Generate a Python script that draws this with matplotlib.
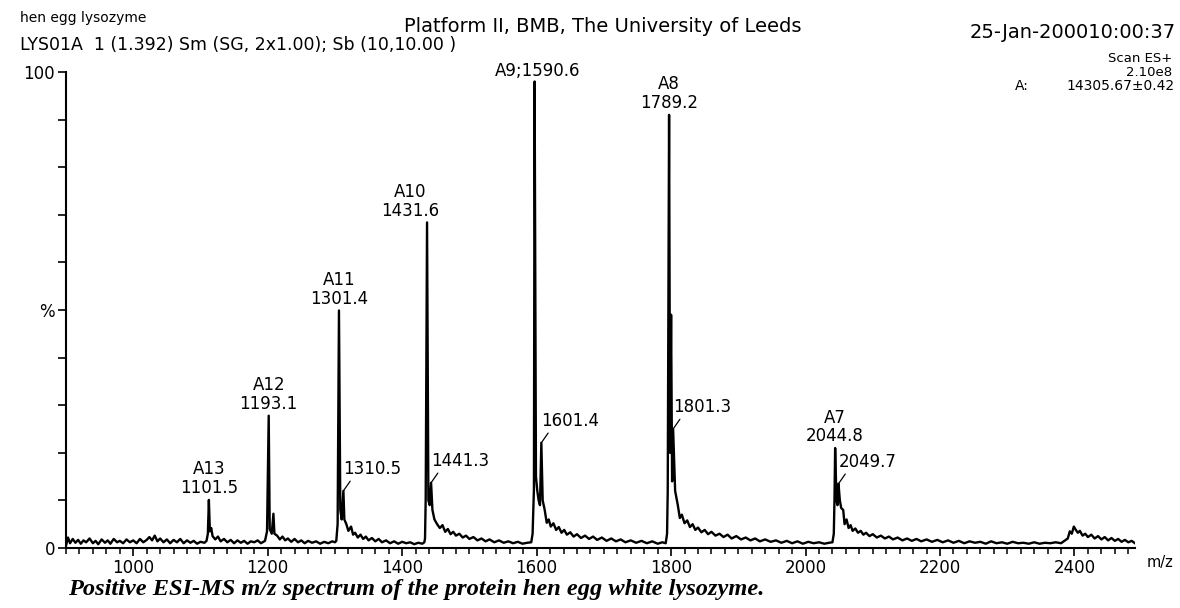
import matplotlib

matplotlib.use("Agg")
import matplotlib.pyplot as plt
from matplotlib.ticker import MultipleLocator

# spectrum profile (m/z on the printed axis, % of base peak)
mz = [
    900, 903, 906, 910, 914, 918, 922, 926, 930, 935, 940, 944, 948, 953, 958, 962, 966, 971, 976, 980, 985, 990, 995,
    1000, 1005, 1010, 1015, 1020, 1024, 1028, 1032, 1036, 1040, 1045, 1050, 1055, 1060, 1065, 1070, 1075, 1080, 1085, 1090, 1095, 1100, 1106,
    1109, 1111, 1112.5, 1114, 1116, 1118, 1122, 1126, 1130, 1135, 1140, 1145, 1150, 1155, 1160, 1165, 1170, 1175, 1180, 1185, 1190, 1196,
    1199, 1201.5, 1203, 1206, 1208.5, 1210, 1214, 1218, 1222, 1226, 1230, 1235, 1240, 1245, 1250, 1255, 1260, 1266, 1272, 1278, 1284, 1290, 1296, 1300,
    1302, 1304, 1306, 1308, 1310, 1312.6, 1314, 1317, 1320, 1324, 1327, 1330, 1334, 1338, 1342, 1346, 1350, 1355, 1360, 1365, 1370, 1376,
    1382, 1388, 1394, 1400, 1406, 1412, 1418, 1424, 1430, 1433,
    1434, 1435, 1437, 1439, 1441, 1443, 1445, 1448, 1452, 1456, 1460, 1464, 1468, 1472, 1476, 1480, 1485, 1490, 1495, 1500, 1506,
    1512, 1518, 1524, 1530, 1537, 1544, 1551, 1558, 1565, 1572, 1579, 1586, 1592,
    1594, 1596, 1597, 1599, 1601, 1603, 1605, 1607, 1609, 1612, 1615, 1618, 1621, 1625, 1629, 1633, 1637, 1641, 1645, 1650, 1655, 1660,
    1666, 1672, 1678, 1684, 1690, 1697, 1704, 1711, 1718, 1725, 1732, 1740, 1748, 1756, 1764, 1772, 1780, 1787, 1792,
    1794, 1795, 1797, 1798.5, 1800, 1801.5, 1803, 1806, 1810, 1813, 1816, 1820, 1824, 1828, 1832, 1836, 1840, 1845, 1850, 1855, 1860,
    1866, 1872, 1878, 1884, 1890, 1897, 1904, 1911, 1918, 1925, 1932, 1940, 1948, 1956, 1964, 1972, 1980, 1988, 1996, 2004,
    2012, 2020, 2028, 2035, 2040,
    2042, 2043, 2044, 2046, 2047.5, 2049, 2051, 2053, 2056, 2058, 2061, 2064, 2067, 2070, 2074, 2078, 2082, 2086, 2090, 2095, 2100,
    2106, 2112, 2118, 2124, 2130, 2137, 2144, 2151, 2158, 2165, 2172, 2180, 2188, 2196, 2204, 2212, 2220, 2228, 2236, 2244, 2252,
    2260, 2268, 2276, 2284, 2292, 2300, 2308, 2316, 2324, 2332, 2340, 2348, 2356, 2364, 2372, 2380,
    2385, 2390, 2393, 2396, 2399, 2402, 2405, 2408, 2412, 2416, 2420, 2425, 2430, 2435, 2440, 2445, 2450, 2455, 2460, 2465,
    2470, 2475, 2480, 2485, 2490,
]
intensity = [
    0.5, 2.2, 1.0, 1.9, 1.1, 1.7, 0.9, 1.6, 1.2, 2.0, 1.0, 1.5, 0.8, 1.8, 1.1, 1.6, 0.9, 1.9, 1.2, 1.5, 1.0, 1.8, 1.2,
    1.6, 1.0, 1.9, 1.2, 1.7, 2.3, 1.6, 2.6, 1.4, 2.0, 1.2, 1.8, 1.0, 1.7, 1.2, 1.9, 1.0, 1.6, 1.1, 1.5, 0.9, 1.3, 1.1,
    1.5, 3.0, 10.1, 3.5, 4.2, 2.5, 1.8, 2.4, 1.4, 1.9, 1.2, 1.7, 1.0, 1.6, 1.1, 1.5, 0.9, 1.4, 1.2, 1.6, 1.0, 1.5,
    3.5, 27.8, 4.0, 3.0, 7.2, 3.0, 2.6, 1.8, 2.4, 1.6, 2.0, 1.3, 1.9, 1.2, 1.6, 1.0, 1.5, 1.1, 1.4, 0.9, 1.3, 1.0, 1.4, 1.2,
    1.5, 5.0, 49.9, 8.0, 6.0, 12.0, 6.0, 5.0, 3.6, 4.5, 2.8, 3.2, 2.2, 2.8, 1.9, 2.4, 1.6, 2.1, 1.4, 1.9, 1.2, 1.6,
    1.0, 1.4, 0.9, 1.3, 1.0, 1.2, 0.8, 1.1, 0.9, 1.2,
    2.0, 10.3, 68.4, 10.0, 9.0, 13.7, 8.0, 6.0, 5.0, 4.2, 4.8, 3.4, 4.0, 2.9, 3.4, 2.6, 3.0, 2.2, 2.6, 1.9, 2.3,
    1.6, 2.0, 1.4, 1.8, 1.2, 1.6, 1.1, 1.4, 1.0, 1.3, 0.9, 1.1, 1.2,
    3.0, 12.4, 98.0, 15.0, 12.0, 10.0, 9.0, 22.1, 10.0, 8.0, 5.3, 6.0, 4.5, 5.2, 3.8, 4.4, 3.2, 3.8, 2.8, 3.3, 2.4, 2.9,
    2.1, 2.6, 1.9, 2.4, 1.7, 2.2, 1.5, 2.0, 1.4, 1.8, 1.2, 1.6, 1.1, 1.5, 1.0, 1.4, 0.9, 1.2, 1.0,
    3.0, 12.0, 91.0, 20.0, 49.0, 14.0, 25.0, 12.0, 9.0, 6.3, 7.0, 5.2, 5.8, 4.4, 5.0, 3.8, 4.3, 3.3, 3.8, 2.9, 3.4,
    2.6, 3.0, 2.3, 2.8, 2.0, 2.5, 1.8, 2.2, 1.6, 2.0, 1.4, 1.8, 1.3, 1.6, 1.1, 1.5, 1.0, 1.4, 0.9, 1.3,
    1.0, 1.2, 0.9, 1.1, 1.2,
    3.0, 10.0, 21.0, 10.0, 9.0, 13.5, 10.0, 8.4, 8.0, 5.0, 6.0, 4.2, 4.8, 3.6, 4.1, 3.2, 3.6, 2.8, 3.2, 2.5, 2.9,
    2.2, 2.6, 2.0, 2.4, 1.8, 2.2, 1.6, 2.0, 1.5, 1.9, 1.4, 1.8, 1.3, 1.7, 1.2, 1.6, 1.1, 1.5, 1.0, 1.4, 1.1,
    1.3, 0.9, 1.4, 1.0, 1.2, 0.9, 1.3, 1.0, 1.1, 0.9, 1.2, 0.9, 1.1, 1.0, 1.2, 1.0,
    1.5, 2.0, 3.5, 3.0, 4.5, 3.8, 3.2, 3.6, 2.6, 3.0, 2.3, 2.8, 2.0, 2.5, 1.8, 2.3, 1.6, 2.1, 1.5, 1.9,
    1.3, 1.7, 1.2, 1.5, 1.0,
]

# labelled charge-state peaks: (position on plot, height, label)
main_pos = [1112.5, 1201.5, 1306, 1437, 1797, 2044]
main_h = [10.1, 27.8, 49.9, 68.4, 91.0, 21.0]
main_lbl = ["A13\n1101.5", "A12\n1193.1", "A11\n1301.4", "A10\n1431.6", "A8\n1789.2", "A7\n2044.8"]
main_dx = [0, 0, 0, -12, 0, 0]
base_pos, base_h, base_lbl = 1597, 98.0, "A9;1590.6"

sat_pos = [1312.6, 1443, 1607, 1803, 2049]
sat_h = [12.0, 13.7, 22.1, 25.0, 13.5]
sat_lbl = ["1310.5", "1441.3", "1601.4", "1801.3", "2049.7"]

fig = plt.figure(figsize=(11.8, 6.08), dpi=100)
ax = fig.add_axes([66 / 1180, 1 - 548 / 608, (1135 - 66) / 1180, (548 - 72) / 608])
ax.plot(mz, intensity, color="black", lw=1.7)
ax.set_xlim(900, 2490)
ax.set_ylim(0, 100)

for s in ("top", "right"):
    ax.spines[s].set_visible(False)
for s in ("left", "bottom"):
    ax.spines[s].set_linewidth(1.5)

ax.set_yticks(range(0, 101, 10))
ax.set_yticklabels(["0", "", "", "", "", "%", "", "", "", "", "100"])
ax.tick_params(axis="y", direction="out", length=6, width=1.2, labelsize=12, pad=2)
ax.xaxis.set_major_locator(MultipleLocator(200))
ax.xaxis.set_minor_locator(MultipleLocator(20))
ax.tick_params(axis="x", which="major", direction="out", length=6, width=1.2, labelsize=12, pad=2)
ax.tick_params(axis="x", which="minor", direction="out", length=4, width=1.1)
ax.set_xticks(range(1000, 2401, 200))

for x, h, t, dx in zip(main_pos, main_h, main_lbl, main_dx):
    ax.annotate(t, xy=(x, h), xytext=(dx, 2), textcoords="offset points",
                ha="center", va="bottom", fontsize=12, linespacing=1.05)
ax.annotate(base_lbl, xy=(base_pos, base_h), xytext=(2, 1), textcoords="offset points",
            ha="center", va="bottom", fontsize=12)
for x, h, t in zip(sat_pos, sat_h, sat_lbl):
    ax.annotate(t, xy=(x, h), xytext=(0, 9), textcoords="offset points",
                ha="left", va="bottom", fontsize=12,
                arrowprops=dict(arrowstyle="-", lw=0.9, color="black",
                                relpos=(0.15, 0), shrinkA=0, shrinkB=0))

fig.text(1147 / 1180, 1 - 563 / 608, "m/z", fontsize=10.5, va="center")

# header block as printed by the instrument software
fig.text(20 / 1180, 1 - 18 / 608, "hen egg lysozyme", fontsize=10, va="center")
fig.text(20 / 1180, 1 - 45 / 608, "LYS01A  1 (1.392) Sm (SG, 2x1.00); Sb (10,10.00 )",
         fontsize=12.5, va="center")
fig.text(603 / 1180, 1 - 27 / 608, "Platform II, BMB, The University of Leeds",
         fontsize=14, ha="center", va="center")
fig.text(1176 / 1180, 1 - 33 / 608, "25-Jan-200010:00:37", fontsize=14, ha="right", va="center")
fig.text(1172 / 1180, 1 - 58 / 608, "Scan ES+", fontsize=9.5, ha="right", va="center")
fig.text(1172 / 1180, 1 - 73 / 608, "2.10e8", fontsize=9.5, ha="right", va="center")
fig.text(1015 / 1180, 1 - 86 / 608, "A:", fontsize=10, va="center")
fig.text(1175 / 1180, 1 - 86 / 608, "14305.67\u00b10.42", fontsize=10, ha="right", va="center")

fig.text(68 / 1180, 1 - 589 / 608,
         "Positive ESI-MS m/z spectrum of the protein hen egg white lysozyme.",
         family="Liberation Serif", weight="bold", style="italic", fontsize=17.6, va="center")

fig.savefig("out.png", dpi=100)
